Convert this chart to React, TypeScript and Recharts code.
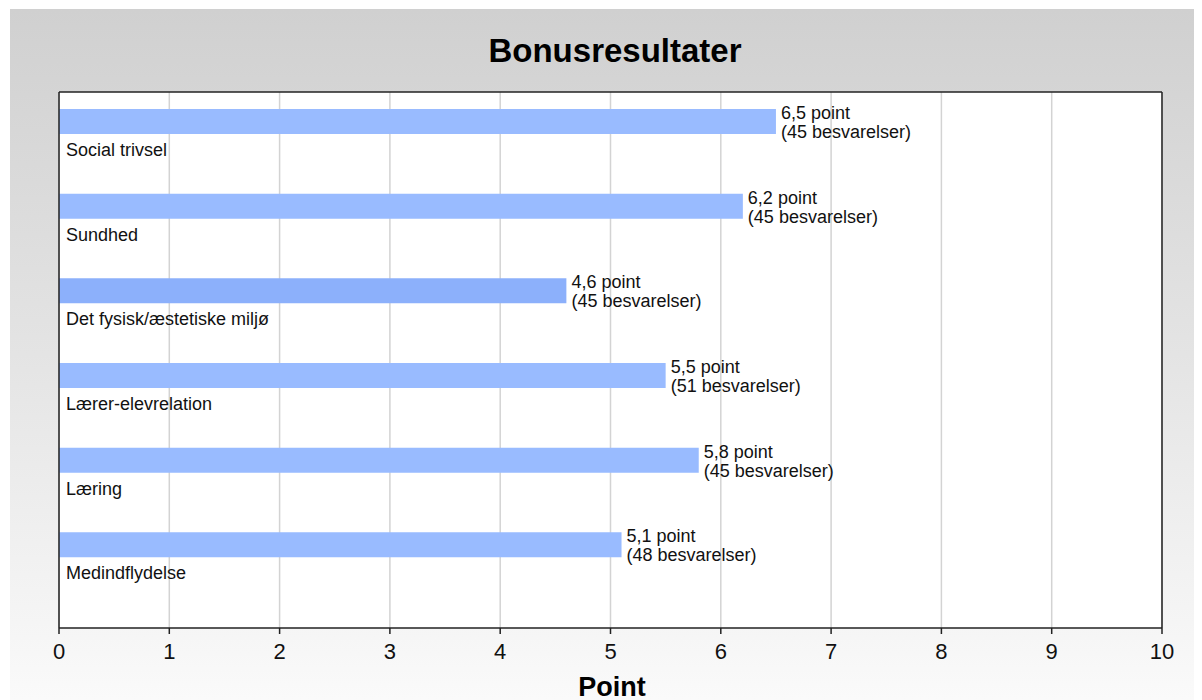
import { BarChart, Bar, XAxis, YAxis, CartesianGrid, LabelList, Cell } from 'recharts';

const categories = [
  'Social trivsel',
  'Sundhed',
  'Det fysisk/æstetiske miljø',
  'Lærer-elevrelation',
  'Læring',
  'Medindflydelse',
];
const points = [6.5, 6.2, 4.6, 5.5, 5.8, 5.1];
const responses = [45, 45, 45, 51, 45, 48];
const xTicks = [0, 1, 2, 3, 4, 5, 6, 7, 8, 9, 10];
const barColors = ['#99bbff', '#99bbff', '#8cb0fb', '#99bbff', '#99bbff', '#99bbff'];

// slot = empty spacer bar under each real bar, where the category name sits
const data = categories.map((name, i) => ({ name, point: points[i], slot: 0 }));

const FONT = '"Liberation Sans", Arial, sans-serif';
const frameLine = { stroke: '#222', strokeWidth: 1.5 };

const renderLabels = (props: any) => {
  const { x, y, width, height, index } = props;
  const p = points[index];
  const n = responses[index];
  return (
    <g style={{ fontFamily: FONT }}>
      <text x={x + width + 5} y={y + 10} fontSize={18} fill="#111">
        {p.toFixed(1).replace('.', ',')} point
      </text>
      <text x={x + width + 5} y={y + 29} fontSize={18} fill="#111">
        ({n} besvarelser)
      </text>
      <text x={x + 7} y={y + height + 22} fontSize={18} fill="#111">
        {categories[index]}
      </text>
    </g>
  );
};

export default function App() {
  return (
    <div
      style={{
        position: 'relative',
        marginLeft: 2,
        marginTop: 1,
        width: 1192,
        height: 691,
        background: 'linear-gradient(to bottom, #d0d0d0 0%, #e4e4e4 50%, #fafafa 100%)',
        fontFamily: FONT,
      }}
    >
      <div
        style={{
          position: 'absolute',
          left: 605,
          top: 25,
          transform: 'translateX(-50%)',
          fontSize: 33,
          lineHeight: 1,
          fontWeight: 'bold',
          color: '#000',
          whiteSpace: 'nowrap',
        }}
      >
        Bonusresultater
      </div>
      <BarChart
        width={1192}
        height={691}
        data={data}
        layout="vertical"
        margin={{ top: 82, right: 39, bottom: 22, left: 48 }}
        barSize={25}
        barGap={2}
      >
        <CartesianGrid horizontal={false} stroke="#d3d3d3" strokeWidth={1.5} fill="#ffffff" />
        <XAxis
          type="number"
          domain={[0, 10]}
          ticks={xTicks}
          interval={0}
          height={50}
          tickSize={6}
          tickMargin={9}
          axisLine={frameLine}
          tickLine={frameLine}
          tick={{ fontSize: 22, fill: '#111', fontFamily: FONT }}
        />
        <XAxis
          xAxisId="top"
          orientation="top"
          type="number"
          domain={[0, 10]}
          height={1}
          tick={false}
          tickLine={false}
          axisLine={frameLine}
        />
        <YAxis
          type="category"
          dataKey="name"
          width={1}
          tick={false}
          tickLine={false}
          axisLine={frameLine}
          padding={{ top: 1, bottom: 27 }}
        />
        <YAxis
          yAxisId="right"
          orientation="right"
          type="category"
          dataKey="name"
          width={1}
          tick={false}
          tickLine={false}
          axisLine={frameLine}
        />
        <Bar dataKey="point" isAnimationActive={false}>
          {data.map((_, i) => (
            <Cell key={`c-${i}`} fill={barColors[i]} />
          ))}
          <LabelList dataKey="point" content={renderLabels} />
        </Bar>
        <Bar dataKey="slot" fill="none" isAnimationActive={false} legendType="none" />
      </BarChart>
      <div
        style={{
          position: 'absolute',
          left: 602,
          top: 665,
          transform: 'translateX(-50%)',
          fontSize: 27,
          lineHeight: 1,
          fontWeight: 'bold',
          color: '#000',
        }}
      >
        Point
      </div>
    </div>
  );
}
